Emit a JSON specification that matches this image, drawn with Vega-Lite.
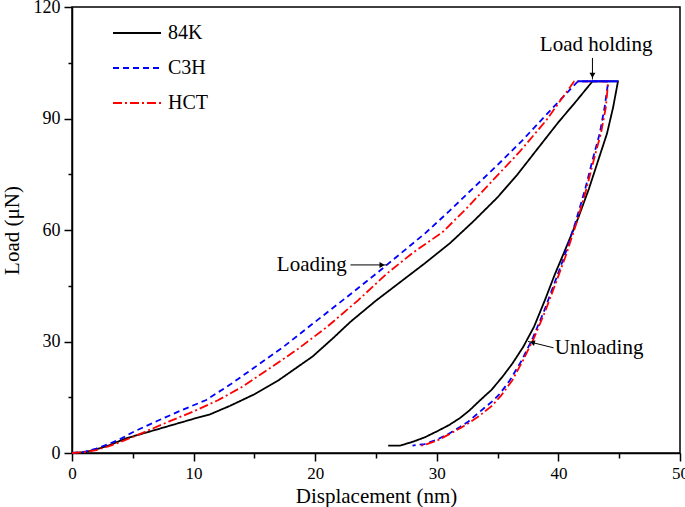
{
  "$schema": "https://vega.github.io/schema/vega-lite/v6.json",
  "width": 608,
  "height": 446,
  "autosize": "none",
  "padding": {"left": 72, "top": 7, "right": 5, "bottom": 54},
  "background": "white",
  "config": {
    "font": "Liberation Serif",
    "view": {"stroke": "black", "strokeWidth": 1.5},
    "axis": {"labelFont": "Liberation Serif", "titleFont": "Liberation Serif", "labelColor": "black", "titleColor": "black", "domainColor": "black", "tickColor": "black", "domainWidth": 1.5, "tickWidth": 1.5, "grid": false, "titleFontSize": 21, "titleFontWeight": "normal"},
    "legend": {"labelFont": "Liberation Serif", "labelFontSize": 20, "labelColor": "black"}
  },
  "datasets": {
    "curves": [
      {"s":"84K","o":1,"x":0,"y":0},{"s":"84K","o":2,"x":1,"y":0.2},{"s":"84K","o":3,"x":2,"y":1},{"s":"84K","o":4,"x":3,"y":2},{"s":"84K","o":5,"x":4.5,"y":4},{"s":"84K","o":6,"x":6,"y":5.4},{"s":"84K","o":7,"x":8,"y":7.3},{"s":"84K","o":8,"x":10,"y":9.2},{"s":"84K","o":9,"x":11.35,"y":10.4},{"s":"84K","o":10,"x":13,"y":12.7},{"s":"84K","o":11,"x":15,"y":15.8},{"s":"84K","o":12,"x":17,"y":19.6},{"s":"84K","o":13,"x":19.8,"y":26},{"s":"84K","o":14,"x":21.5,"y":31},{"s":"84K","o":15,"x":22.9,"y":35.3},{"s":"84K","o":16,"x":25,"y":41},{"s":"84K","o":17,"x":27,"y":46},{"s":"84K","o":18,"x":29,"y":51},{"s":"84K","o":19,"x":31.1,"y":56.5},{"s":"84K","o":20,"x":33,"y":62.3},{"s":"84K","o":21,"x":35,"y":68.8},{"s":"84K","o":22,"x":36.6,"y":74.8},{"s":"84K","o":23,"x":38.2,"y":81.5},{"s":"84K","o":24,"x":40,"y":89},{"s":"84K","o":25,"x":41.5,"y":94.8},{"s":"84K","o":26,"x":42.8,"y":100},{"s":"84K","o":27,"x":44.9,"y":100},{"s":"84K","o":28,"x":44.5,"y":93},{"s":"84K","o":29,"x":44.0,"y":86},{"s":"84K","o":30,"x":43.3,"y":79},{"s":"84K","o":31,"x":42.5,"y":71},{"s":"84K","o":32,"x":41.6,"y":63},{"s":"84K","o":33,"x":40.6,"y":55},{"s":"84K","o":34,"x":39.7,"y":48},{"s":"84K","o":35,"x":38.9,"y":41.2},{"s":"84K","o":36,"x":38.0,"y":34},{"s":"84K","o":37,"x":37.1,"y":28.5},{"s":"84K","o":38,"x":36.2,"y":24},{"s":"84K","o":39,"x":35.4,"y":20.5},{"s":"84K","o":40,"x":34.5,"y":17},{"s":"84K","o":41,"x":33.5,"y":14},{"s":"84K","o":42,"x":32.7,"y":11.5},{"s":"84K","o":43,"x":31.9,"y":9.4},{"s":"84K","o":44,"x":31,"y":7.5},{"s":"84K","o":45,"x":30,"y":5.8},{"s":"84K","o":46,"x":29,"y":4.2},{"s":"84K","o":47,"x":28,"y":3},{"s":"84K","o":48,"x":27,"y":2},{"s":"84K","o":49,"x":26,"y":2},
      {"s":"C3H","o":1,"x":0,"y":0},{"s":"C3H","o":2,"x":1,"y":0.3},{"s":"C3H","o":3,"x":2,"y":1.2},{"s":"C3H","o":4,"x":3,"y":2.4},{"s":"C3H","o":5,"x":4,"y":3.8},{"s":"C3H","o":6,"x":5,"y":5.6},{"s":"C3H","o":7,"x":7,"y":8.6},{"s":"C3H","o":8,"x":9,"y":11.5},{"s":"C3H","o":9,"x":11,"y":14.2},{"s":"C3H","o":10,"x":13,"y":18.4},{"s":"C3H","o":11,"x":15,"y":23},{"s":"C3H","o":12,"x":17.4,"y":28.6},{"s":"C3H","o":13,"x":20,"y":35.3},{"s":"C3H","o":14,"x":22.5,"y":41.7},{"s":"C3H","o":15,"x":25,"y":48.2},{"s":"C3H","o":16,"x":27,"y":53.6},{"s":"C3H","o":17,"x":29,"y":59},{"s":"C3H","o":18,"x":31,"y":65},{"s":"C3H","o":19,"x":33,"y":71.3},{"s":"C3H","o":20,"x":35,"y":77.5},{"s":"C3H","o":21,"x":37,"y":84},{"s":"C3H","o":22,"x":39,"y":91},{"s":"C3H","o":23,"x":41.6,"y":100},{"s":"C3H","o":24,"x":44.1,"y":100},{"s":"C3H","o":25,"x":43.8,"y":93},{"s":"C3H","o":26,"x":43.4,"y":86},{"s":"C3H","o":27,"x":42.9,"y":80},{"s":"C3H","o":28,"x":42.2,"y":71},{"s":"C3H","o":29,"x":41.4,"y":62},{"s":"C3H","o":30,"x":40.5,"y":53},{"s":"C3H","o":31,"x":39.6,"y":45},{"s":"C3H","o":32,"x":38.8,"y":38},{"s":"C3H","o":33,"x":37.9,"y":31},{"s":"C3H","o":34,"x":37.0,"y":25},{"s":"C3H","o":35,"x":36.0,"y":19.5},{"s":"C3H","o":36,"x":35.2,"y":16},{"s":"C3H","o":37,"x":34.6,"y":14},{"s":"C3H","o":38,"x":33.5,"y":11},{"s":"C3H","o":39,"x":32.6,"y":8.5},{"s":"C3H","o":40,"x":31.9,"y":7},{"s":"C3H","o":41,"x":31,"y":5.2},{"s":"C3H","o":42,"x":30,"y":3.6},{"s":"C3H","o":43,"x":29,"y":2.4},{"s":"C3H","o":44,"x":28,"y":2},
      {"s":"HCT","o":1,"x":0,"y":0},{"s":"HCT","o":2,"x":1,"y":0.2},{"s":"HCT","o":3,"x":2,"y":0.8},{"s":"HCT","o":4,"x":3,"y":1.8},{"s":"HCT","o":5,"x":4,"y":3},{"s":"HCT","o":6,"x":5,"y":4.3},{"s":"HCT","o":7,"x":6,"y":5.7},{"s":"HCT","o":8,"x":8,"y":8.5},{"s":"HCT","o":9,"x":10,"y":11.2},{"s":"HCT","o":10,"x":12,"y":14.2},{"s":"HCT","o":11,"x":14,"y":17.8},{"s":"HCT","o":12,"x":16,"y":22.2},{"s":"HCT","o":13,"x":18.5,"y":27.8},{"s":"HCT","o":14,"x":21,"y":34},{"s":"HCT","o":15,"x":23.5,"y":41},{"s":"HCT","o":16,"x":25.9,"y":48.3},{"s":"HCT","o":17,"x":28,"y":53.8},{"s":"HCT","o":18,"x":30.5,"y":59.5},{"s":"HCT","o":19,"x":32.5,"y":66},{"s":"HCT","o":20,"x":34.5,"y":73},{"s":"HCT","o":21,"x":36.8,"y":81},{"s":"HCT","o":22,"x":39,"y":89.5},{"s":"HCT","o":23,"x":41.3,"y":100},{"s":"HCT","o":24,"x":44.1,"y":100},{"s":"HCT","o":25,"x":43.9,"y":93},{"s":"HCT","o":26,"x":43.5,"y":86},{"s":"HCT","o":27,"x":43.0,"y":80},{"s":"HCT","o":28,"x":42.3,"y":71},{"s":"HCT","o":29,"x":41.5,"y":62},{"s":"HCT","o":30,"x":40.6,"y":53},{"s":"HCT","o":31,"x":39.7,"y":45},{"s":"HCT","o":32,"x":38.9,"y":38},{"s":"HCT","o":33,"x":38.0,"y":31},{"s":"HCT","o":34,"x":37.1,"y":25},{"s":"HCT","o":35,"x":36.2,"y":19.5},{"s":"HCT","o":36,"x":35.3,"y":15.5},{"s":"HCT","o":37,"x":34.5,"y":12.6},{"s":"HCT","o":38,"x":33.5,"y":10},{"s":"HCT","o":39,"x":32.6,"y":8},{"s":"HCT","o":40,"x":32,"y":6.8},{"s":"HCT","o":41,"x":31,"y":5},{"s":"HCT","o":42,"x":30,"y":3.3},{"s":"HCT","o":43,"x":29,"y":2.2},{"s":"HCT","o":44,"x":28.7,"y":2}
    ],
    "hold": [{"x": 41.6, "x2": 44.9, "y": 100}],
    "labels": [
      {"t": "Load holding", "x": 43.1, "y": 109.8, "a": "center"},
      {"t": "Loading", "x": 22.6, "y": 50.6, "a": "right"},
      {"t": "Unloading", "x": 39.7, "y": 28.2, "a": "left"}
    ],
    "arrows": [
      {"x": 42.8, "y": 106.3, "x2": 42.8, "y2": 100.5},
      {"x": 22.9, "y": 50.6, "x2": 25.9, "y2": 50.6},
      {"x": 39.6, "y": 28.3, "x2": 37.5, "y2": 30}
    ],
    "heads": [
      {"x": 42.8, "y": 101.6, "sh": "triangle-down", "ang": 0},
      {"x": 25.5, "y": 50.6, "sh": "triangle-right", "ang": 0},
      {"x": 37.85, "y": 29.75, "sh": "triangle-left", "ang": 14}
    ]
  },
  "layer": [
    {
      "data": {"name": "curves"},
      "mark": {"type": "line", "strokeWidth": 1.8},
      "encoding": {
        "x": {"field": "x", "type": "quantitative", "scale": {"domain": [0, 50], "nice": false, "zero": false},
          "axis": {"title": "Displacement (nm)", "values": [0,5,10,15,20,25,30,35,40,45,50], "labelExpr": "datum.value % 10 === 0 ? datum.label : ''", "tickSize": {"condition": {"test": "datum.value % 10 === 0", "value": 8}, "value": 5}, "labelPadding": 4, "labelFontSize": 17, "titleBaseline": "middle", "titleY": 43, "labelFlush": false}},
        "y": {"field": "y", "type": "quantitative", "scale": {"domain": [0, 120], "nice": false},
          "axis": {"title": "Load (μN)", "values": [0,15,30,45,60,75,90,105,120], "labelExpr": "datum.value % 30 === 0 ? datum.label : ''", "tickSize": {"condition": {"test": "datum.value % 30 === 0", "value": 8}, "value": 4}, "labelPadding": 4, "labelFontSize": 18, "titleBaseline": "middle", "titleX": -60, "labelFlush": false}},
        "order": {"field": "o", "type": "quantitative"},
        "color": {"field": "s", "type": "nominal", "scale": {"domain": ["84K", "C3H", "HCT"], "range": ["#000000", "#0000ff", "#ff0000"]},
          "legend": {"title": null, "orient": "none", "legendX": 40, "legendY": 1, "symbolType": "stroke", "symbolSize": 2304, "symbolStrokeWidth": 1.8, "labelOffset": 6, "rowPadding": -5}},
        "strokeDash": {"field": "s", "type": "nominal", "scale": {"domain": ["84K", "C3H", "HCT"], "range": [[1, 0], [6, 4], [9, 3, 2, 3]]}, "legend": {"title": null, "orient": "none", "legendX": 40, "legendY": 1, "symbolType": "stroke", "symbolSize": 2304, "symbolStrokeWidth": 1.8, "labelOffset": 6, "rowPadding": -5}}
      }
    },
    {
      "data": {"name": "hold"},
      "mark": {"type": "rule", "color": "#0000ff", "strokeWidth": 2},
      "encoding": {"x": {"field": "x", "type": "quantitative"}, "x2": {"field": "x2"}, "y": {"field": "y", "type": "quantitative"}}
    },
    {
      "data": {"name": "arrows"},
      "mark": {"type": "rule", "color": "black", "strokeWidth": 1},
      "encoding": {"x": {"field": "x", "type": "quantitative"}, "x2": {"field": "x2"}, "y": {"field": "y", "type": "quantitative"}, "y2": {"field": "y2"}}
    },
    {
      "data": {"name": "heads"},
      "mark": {"type": "point", "filled": true, "color": "black", "size": 35, "opacity": 1},
      "encoding": {"x": {"field": "x", "type": "quantitative"}, "y": {"field": "y", "type": "quantitative"}, "shape": {"field": "sh", "type": "nominal", "scale": null}, "angle": {"field": "ang", "type": "quantitative", "scale": null}}
    },
    {
      "data": {"name": "labels"},
      "transform": [{"filter": "datum.a === 'center'"}],
      "mark": {"type": "text", "fontSize": 21, "font": "Liberation Serif", "color": "black", "baseline": "middle", "align": "center"},
      "encoding": {"x": {"field": "x", "type": "quantitative"}, "y": {"field": "y", "type": "quantitative"}, "text": {"field": "t"}}
    },
    {
      "data": {"name": "labels"},
      "transform": [{"filter": "datum.a === 'right'"}],
      "mark": {"type": "text", "fontSize": 21, "font": "Liberation Serif", "color": "black", "baseline": "middle", "align": "right"},
      "encoding": {"x": {"field": "x", "type": "quantitative"}, "y": {"field": "y", "type": "quantitative"}, "text": {"field": "t"}}
    },
    {
      "data": {"name": "labels"},
      "transform": [{"filter": "datum.a === 'left'"}],
      "mark": {"type": "text", "fontSize": 21, "font": "Liberation Serif", "color": "black", "baseline": "middle", "align": "left"},
      "encoding": {"x": {"field": "x", "type": "quantitative"}, "y": {"field": "y", "type": "quantitative"}, "text": {"field": "t"}}
    }
  ]
}
